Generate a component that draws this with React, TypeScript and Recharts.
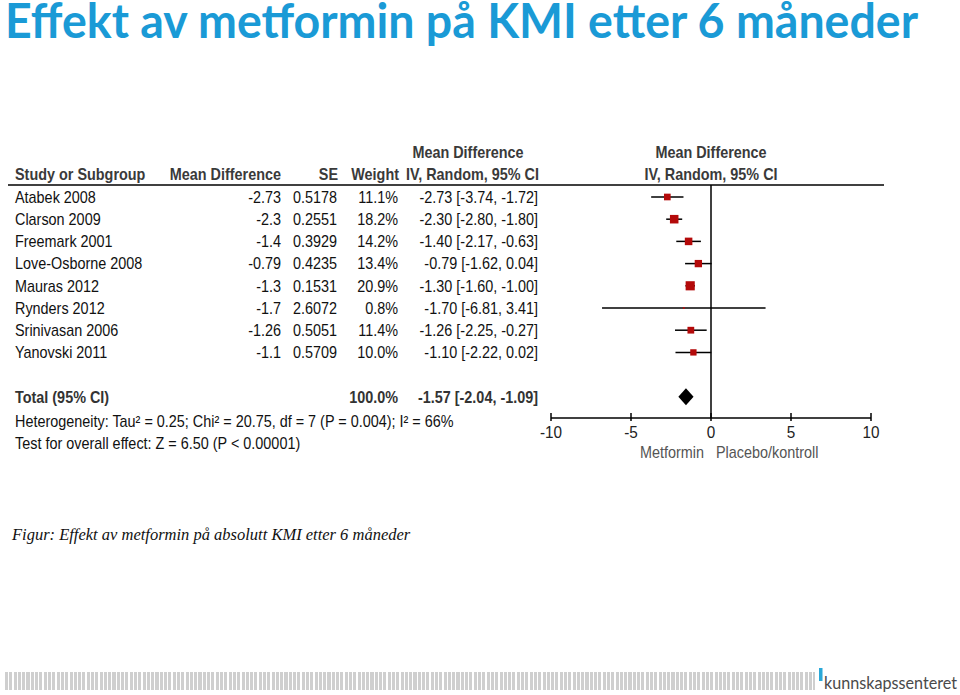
import React from 'react';
import {
  ScatterChart,
  Scatter,
  XAxis,
  YAxis,
  ErrorBar,
  ReferenceLine,
  ReferenceArea,
} from 'recharts';

const studies = [
  'Atabek 2008',
  'Clarson 2009',
  'Freemark 2001',
  'Love-Osborne 2008',
  'Mauras 2012',
  'Rynders 2012',
  'Srinivasan 2006',
  'Yanovski 2011',
];
const meanDiff = [-2.73, -2.3, -1.4, -0.79, -1.3, -1.7, -1.26, -1.1];
const stdErr = [0.5178, 0.2551, 0.3929, 0.4235, 0.1531, 2.6072, 0.5051, 0.5709];
const weight = [11.1, 18.2, 14.2, 13.4, 20.9, 0.8, 11.4, 10.0];
const ciLow = [-3.74, -2.8, -2.17, -1.62, -1.6, -6.81, -2.25, -2.22];
const ciHigh = [-1.72, -1.8, -0.63, 0.04, -1.0, 3.41, -0.27, 0.02];

const totalMeanDiff = -1.57;
const totalLow = -2.04;
const totalHigh = -1.09;
const totalWeight = 100.0;

const xTicks = [-10, -5, 0, 5, 10];
const TOTAL_ROW = 9;

const data = studies.map((s, i) => ({
  x: meanDiff[i],
  y: i,
  err: [meanDiff[i] - ciLow[i], ciHigh[i] - meanDiff[i]],
  w: weight[i],
}));

const FONT = "'Liberation Sans', Arial, sans-serif";

const ci = (m: number, lo: number, hi: number) =>
  `${m.toFixed(2)} [${lo.toFixed(2)}, ${hi.toFixed(2)}]`;

// narrow text: no condensed font is installed, so squeeze Liberation Sans
const T = ({ x, y, anchor = 'start', bold = false, fill = '#111', size = 16, dy, children }: any) => (
  <g transform={`translate(${x},${y}) scale(0.9,1)`}>
    <text
      x={0}
      y={0}
      dy={dy}
      textAnchor={anchor}
      fontFamily={FONT}
      fontSize={size}
      fontWeight={bold ? 'bold' : 'normal'}
      fill={fill}
    >
      {children}
    </text>
  </g>
);

const RowTick = (props: any) => {
  const { y, payload } = props;
  const i = payload.value;
  if (i === TOTAL_ROW) {
    return (
      <g>
        <T x={15} y={y} dy="0.36em" bold fill="#333">Total (95% CI)</T>
        <T x={398} y={y} dy="0.36em" anchor="end" bold fill="#333">{totalWeight.toFixed(1)}%</T>
        <T x={538} y={y} dy="0.36em" anchor="end" bold fill="#333">{ci(totalMeanDiff, totalLow, totalHigh)}</T>
      </g>
    );
  }
  return (
    <g>
      <T x={15} y={y} dy="0.36em">{studies[i]}</T>
      <T x={281} y={y} dy="0.36em" anchor="end">{String(meanDiff[i])}</T>
      <T x={337} y={y} dy="0.36em" anchor="end">{String(stdErr[i])}</T>
      <T x={398} y={y} dy="0.36em" anchor="end">{weight[i].toFixed(1)}%</T>
      <T x={538} y={y} dy="0.36em" anchor="end">{ci(meanDiff[i], ciLow[i], ciHigh[i])}</T>
    </g>
  );
};

const AxisTick = (props: any) => {
  const { x, y, payload } = props;
  return (
    <g>
      <line x1={x} x2={x} y1={y - 5} y2={y + 3} stroke="#000" strokeWidth={1.5} />
      <T x={x} y={y + 20} anchor="middle" fill="#222" size={17}>{payload.value}</T>
    </g>
  );
};

const StudyMarker = (props: any) => {
  const { cx, cy, payload } = props;
  const side = 2 * Math.sqrt(payload.w);
  return <rect x={cx - side / 2} y={cy - side / 2} width={side} height={side} fill="#b40a0a" />;
};

const Diamond = (props: any) => {
  const { x, y, width, height } = props;
  const pts = [
    [x, y + height / 2],
    [x + width / 2, y],
    [x + width, y + height / 2],
    [x + width / 2, y + height],
  ]
    .map((p) => p.join(','))
    .join(' ');
  return <polygon points={pts} fill="#000" />;
};

export default function App() {
  return (
    <div style={{ position: 'absolute', left: 0, top: 0, width: 960, height: 695, background: '#fff', overflow: 'hidden' }}>
      <ScatterChart width={960} height={695} margin={{ top: 185, right: 89, bottom: 237, left: 0 }}>
        <XAxis
          type="number"
          dataKey="x"
          domain={[-10, 10]}
          ticks={xTicks}
          allowDataOverflow
          axisLine={{ stroke: '#000', strokeWidth: 1.5 }}
          tickLine={false}
          tickSize={0}
          tickMargin={0}
          height={40}
          tick={<AxisTick />}
          interval={0}
        />
        <YAxis
          type="number"
          dataKey="y"
          domain={[-0.54, 9.955]}
          reversed
          allowDataOverflow
          ticks={[0, 1, 2, 3, 4, 5, 6, 7, TOTAL_ROW]}
          interval={0}
          width={551}
          axisLine={false}
          tickLine={false}
          tickSize={0}
          tickMargin={0}
          tick={<RowTick />}
        />
        <ReferenceLine x={0} stroke="#000" strokeWidth={1.5} />
        <ReferenceArea
          x1={totalLow}
          x2={totalHigh}
          y1={TOTAL_ROW - 0.38}
          y2={TOTAL_ROW + 0.38}
          shape={<Diamond />}
        />
        <Scatter data={data} shape={<StudyMarker />} isAnimationActive={false}>
          <ErrorBar dataKey="err" direction="x" width={0} stroke="#000" strokeWidth={1.5} />
        </Scatter>
      </ScatterChart>

      <svg width={960} height={695} style={{ position: 'absolute', left: 0, top: 0, pointerEvents: 'none' }}>
        <text x={5} y={38} fontFamily="Lato, 'Open Sans', sans-serif" fontWeight="bold" fontSize={48} fill="#1a9ad6" textLength={913} lengthAdjust="spacingAndGlyphs">
          Effekt av metformin på KMI etter 6 måneder
        </text>

        <T x={468} y={158} anchor="middle" bold fill="#3a3a3a">Mean Difference</T>
        <T x={15} y={180} bold fill="#3a3a3a">Study or Subgroup</T>
        <T x={281} y={180} anchor="end" bold fill="#3a3a3a">Mean Difference</T>
        <T x={338} y={180} anchor="end" bold fill="#3a3a3a">SE</T>
        <T x={399} y={180} anchor="end" bold fill="#3a3a3a">Weight</T>
        <T x={539} y={180} anchor="end" bold fill="#3a3a3a">IV, Random, 95% CI</T>
        <T x={711} y={158} anchor="middle" bold fill="#3a3a3a">Mean Difference</T>
        <T x={711} y={180} anchor="middle" bold fill="#3a3a3a">IV, Random, 95% CI</T>
        <line x1={8} x2={884} y1={185} y2={185} stroke="#000" strokeWidth={1.5} />

        <T x={15} y={427}>Heterogeneity: Tau² = 0.25; Chi² = 20.75, df = 7 (P = 0.004); I² = 66%</T>
        <T x={15} y={449}>Test for overall effect: Z = 6.50 (P &lt; 0.00001)</T>

        <T x={704} y={458} anchor="end" fill="#555">Metformin</T>
        <T x={716} y={458} fill="#555">Placebo/kontroll</T>

        <text x={12} y={540} fontFamily="'Liberation Serif', 'DejaVu Serif', serif" fontStyle="italic" fontSize={16.5} fill="#111">
          Figur: Effekt av metformin på absolutt KMI etter 6 måneder
        </text>

        <rect x={819} y={668} width={3.5} height={13} fill="#2aa8d8" />
        <text x={824} y={689} fontFamily="Lato, 'Open Sans', sans-serif" fontSize={18} fill="#4a4a4a" textLength={133} lengthAdjust="spacingAndGlyphs">
          kunnskapssenteret
        </text>
      </svg>
      <div
        style={{
          position: 'absolute',
          left: 5,
          top: 672,
          width: 810,
          height: 18,
          background: 'repeating-linear-gradient(90deg, #cfcfcf 0px, #cfcfcf 3px, transparent 3px, transparent 4.3px)',
        }}
      />
    </div>
  );
}
